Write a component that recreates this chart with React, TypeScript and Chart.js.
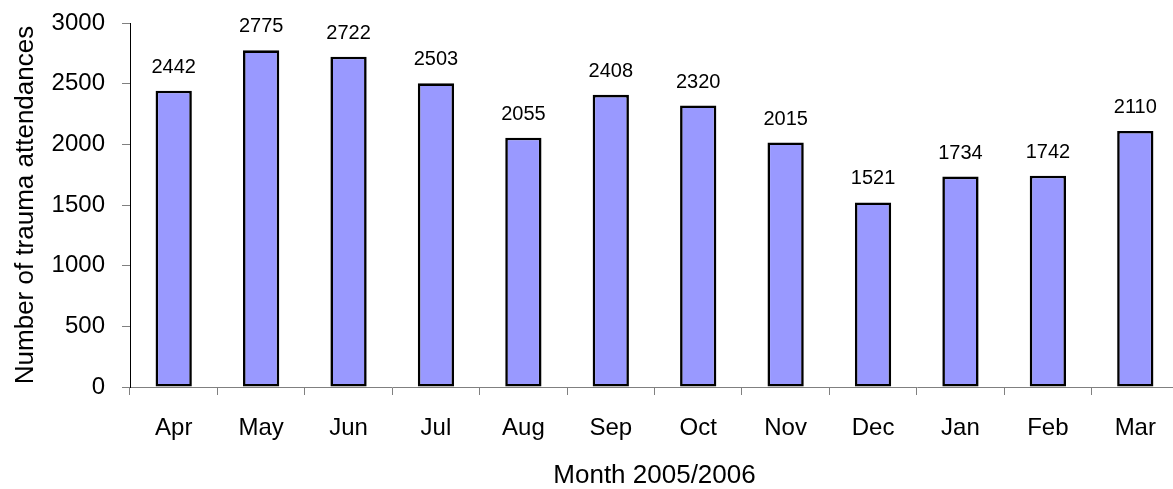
import React, { useEffect, useRef } from "react";
import { Chart, registerables } from "chart.js";

Chart.register(...registerables);

const months = ["Apr", "May", "Jun", "Jul", "Aug", "Sep", "Oct", "Nov", "Dec", "Jan", "Feb", "Mar"];
const attendances = [2442, 2775, 2722, 2503, 2055, 2408, 2320, 2015, 1521, 1734, 1742, 2110];
const yTitle = "Number of trauma attendances";
const xTitle = "Month 2005/2006";

const FONT = '"Liberation Sans", Arial, sans-serif';

const valueLabels = {
  id: "valueLabels",
  afterDatasetsDraw(chart: any) {
    const ctx = chart.ctx;
    const meta = chart.getDatasetMeta(0);
    ctx.save();
    ctx.font = `20px ${FONT}`;
    ctx.fillStyle = "#000";
    ctx.textAlign = "center";
    ctx.textBaseline = "alphabetic";
    meta.data.forEach((bar: any, i: number) => {
      const v = chart.data.datasets[0].data[i];
      ctx.fillText(String(v), bar.x, bar.y - 18);
    });
    ctx.restore();
  },
};

export default function App() {
  const ref = useRef<HTMLCanvasElement | null>(null);
  useEffect(() => {
    if (!ref.current) return;
    const chart = new Chart(ref.current, {
      type: "bar",
      data: {
        labels: months,
        datasets: [
          {
            data: attendances,
            backgroundColor: "#9999FF",
            borderColor: "#000000",
            borderWidth: 2.6,
            borderSkipped: false,
            categoryPercentage: 1,
            barPercentage: 0.415,
          },
        ],
      },
      options: {
        animation: false,
        responsive: true,
        maintainAspectRatio: false,
        layout: { padding: { top: 23, left: 0, right: 1, bottom: 0 } },
        plugins: {
          legend: { display: false },
          tooltip: { enabled: false },
        },
        scales: {
          x: {
            grid: {
              display: true,
              drawOnChartArea: false,
              drawTicks: true,
              tickLength: 8,
              color: "#808080",
              offset: true,
            },
            border: { display: true, color: "#808080", width: 1 },
            ticks: {
              color: "#000",
              font: { family: FONT, size: 24 },
              padding: 19,
              maxRotation: 0,
            },
            title: {
              display: true,
              text: xTitle,
              color: "#000",
              font: { family: FONT, size: 26 },
              padding: { top: 0, bottom: -2 },
            },
            afterFit: (scale: any) => {
              scale.height = 102;
              scale.paddingLeft = 0;
              scale.paddingRight = 0;
            },
          },
          y: {
            min: 0,
            max: 3000,
            ticks: {
              stepSize: 500,
              color: "#000",
              font: { family: FONT, size: 24 },
              padding: 17,
              callback: (v: any) => String(v),
            },
            grid: {
              display: true,
              drawOnChartArea: false,
              drawTicks: true,
              tickLength: 8,
              color: "#808080",
            },
            border: { display: true, color: "#000000", width: 1 },
            title: {
              display: true,
              text: yTitle,
              color: "#000",
              font: { family: FONT, size: 26 },
              padding: { top: 10, bottom: 0 },
            },
            afterFit: (scale: any) => {
              scale.width = 130;
              scale.paddingTop = 0;
              scale.paddingBottom = 0;
            },
          },
        },
      },
      plugins: [valueLabels],
    });
    return () => chart.destroy();
  }, []);

  return (
    <div
      style={{
        position: "fixed",
        left: 0,
        top: 0,
        width: 1173,
        height: 489,
        overflow: "hidden",
        background: "#fff",
      }}
    >
      <div style={{ position: "relative", width: 1180, height: 489 }}>
        <canvas ref={ref} />
      </div>
    </div>
  );
}
